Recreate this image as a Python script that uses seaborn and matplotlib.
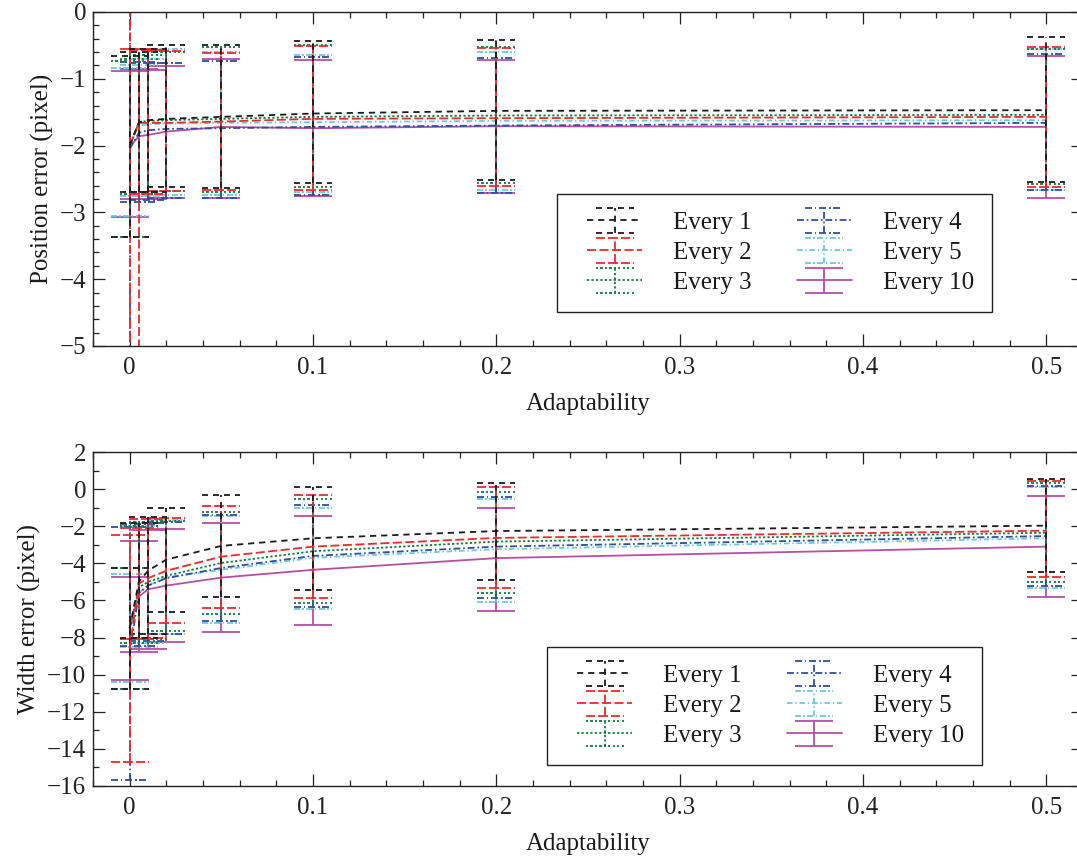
import matplotlib
matplotlib.use("Agg")
import matplotlib.pyplot as plt
import seaborn as sns
import numpy as np
from matplotlib.path import Path
from matplotlib.markers import MarkerStyle
from matplotlib.lines import Line2D
from matplotlib.container import ErrorbarContainer
from matplotlib.legend_handler import HandlerErrorbar

# ---- data ----
adaptability = [0, 0.005, 0.01, 0.02, 0.05, 0.1, 0.2, 0.5]
series = ["Every 1", "Every 2", "Every 3", "Every 4", "Every 5", "Every 10"]

pos_mean = {
    "Every 1":  [-2.00, -1.65, -1.62, -1.60, -1.57, -1.52, -1.48, -1.47],
    "Every 2":  [-2.00, -1.66, -1.66, -1.66, -1.64, -1.60, -1.59, -1.57],
    "Every 3":  [-2.02, -1.65, -1.63, -1.62, -1.60, -1.57, -1.55, -1.54],
    "Every 4":  [-2.05, -1.81, -1.77, -1.75, -1.74, -1.72, -1.70, -1.66],
    "Every 5":  [-2.00, -1.70, -1.68, -1.67, -1.66, -1.65, -1.63, -1.62],
    "Every 10": [-2.02, -1.86, -1.84, -1.79, -1.72, -1.74, -1.71, -1.72],
}
pos_upper = {
    "Every 1":  [-0.66, -0.60, -0.55, -0.49, -0.49, -0.43, -0.42, -0.37],
    "Every 2":  [1.50, -0.56, -0.57, -0.58, -0.61, -0.51, -0.54, -0.52],
    "Every 3":  [-0.73, -0.70, -0.65, -0.60, -0.52, -0.50, -0.52, -0.55],
    "Every 4":  [1.20, -0.75, -0.77, -0.77, -0.73, -0.68, -0.69, -0.63],
    "Every 5":  [-0.84, -0.80, -0.70, -0.55, -0.60, -0.64, -0.60, -0.56],
    "Every 10": [-0.89, -0.85, -0.87, -0.81, -0.70, -0.72, -0.72, -0.66],
}
pos_lower = {
    "Every 1":  [-3.37, -2.70, -2.69, -2.62, -2.64, -2.56, -2.51, -2.54],
    "Every 2":  [-5.50, -5.60, -2.72, -2.68, -2.66, -2.66, -2.61, -2.62],
    "Every 3":  [-3.37, -2.72, -2.72, -2.68, -2.69, -2.62, -2.56, -2.58],
    "Every 4":  [-5.30, -2.84, -2.81, -2.79, -2.79, -2.74, -2.71, -2.66],
    "Every 5":  [-3.05, -2.76, -2.76, -2.74, -2.74, -2.70, -2.67, -2.66],
    "Every 10": [-3.07, -2.80, -2.80, -2.79, -2.78, -2.76, -2.71, -2.78],
}

wid_mean = {
    "Every 1":  [-7.5, -5.0, -4.4, -3.8, -3.06, -2.65, -2.26, -1.97],
    "Every 2":  [-8.6, -5.1, -4.8, -4.4, -3.64, -3.10, -2.63, -2.24],
    "Every 3":  [-7.5, -5.3, -5.0, -4.67, -3.98, -3.35, -2.83, -2.35],
    "Every 4":  [-8.9, -5.6, -5.2, -4.8, -4.25, -3.60, -3.10, -2.53],
    "Every 5":  [-7.5, -5.6, -5.2, -4.75, -4.35, -3.70, -3.24, -2.65],
    "Every 10": [-7.5, -5.8, -5.4, -5.2, -4.77, -4.35, -3.72, -3.10],
}
wid_upper = {
    "Every 1":  [-4.23, -1.80, -1.50, -1.03, -0.32, 0.12, 0.35, 0.55],
    "Every 2":  [-2.47, -2.10, -1.60, -1.54, -0.89, -0.30, 0.11, 0.44],
    "Every 3":  [-4.23, -2.00, -1.75, -1.70, -1.22, -0.55, -0.16, 0.33],
    "Every 4":  [-2.05, -1.90, -1.80, -1.75, -1.39, -0.85, -0.42, 0.18],
    "Every 5":  [-4.57, -2.00, -1.80, -1.65, -1.45, -1.00, -0.53, 0.10],
    "Every 10": [-4.72, -2.78, -2.20, -2.16, -1.83, -1.45, -1.03, -0.37],
}
wid_lower = {
    "Every 1":  [-10.77, -8.00, -7.80, -6.60, -5.80, -5.42, -4.90, -4.47],
    "Every 2":  [-14.70, -8.10, -8.00, -7.22, -6.39, -5.85, -5.31, -4.74],
    "Every 3":  [-10.77, -8.30, -8.10, -7.63, -6.74, -6.15, -5.58, -4.99],
    "Every 4":  [-15.67, -8.45, -8.20, -7.82, -7.10, -6.35, -5.85, -5.20],
    "Every 5":  [-10.40, -8.50, -8.30, -7.80, -7.20, -6.45, -6.06, -5.34],
    "Every 10": [-10.29, -8.76, -8.60, -8.22, -7.70, -7.30, -6.55, -5.80],
}

# ---- styles ----
colors = {
    "Every 1": "#1a1a1a",
    "Every 2": "#ee2a2a",
    "Every 3": "#117a3c",
    "Every 4": "#2c4fa3",
    "Every 5": "#6cc9de",
    "Every 10": "#b54ea6",
}
# dash patterns in points (None = solid)
dashes = {
    "Every 1": (4.5, 3.5),
    "Every 2": (6.5, 2.5),
    "Every 3": (1.6, 1.6),
    "Every 4": (5.0, 2.0, 1.2, 2.0),
    "Every 5": (4.0, 2.0, 1.0, 2.0),
    "Every 10": None,
}
# drawing order: black over red on the bars, magenta underneath
zorders = {"Every 1": 2.5, "Every 2": 2.4, "Every 3": 2.3,
           "Every 4": 2.2, "Every 5": 2.1, "Every 10": 2.0}

LW = 1.3
CAPSIZE = 13.7
FS = 18

sns.set_theme(style="ticks")
plt.rcParams["font.family"] = ["Liberation Serif", "DejaVu Serif"]
plt.rcParams["axes.edgecolor"] = "#222222"
plt.rcParams["text.color"] = "#1a1a1a"
plt.rcParams["axes.labelcolor"] = "#1a1a1a"
plt.rcParams["xtick.color"] = "#222222"
plt.rcParams["ytick.color"] = "#222222"


def linestyle_for(name):
    pat = dashes[name]
    if pat is None:
        return "-"
    return (0, tuple(p / LW for p in pat))


def cap_marker(name):
    """Cap marker drawn with the same dash pattern as the series."""
    pat = dashes[name]
    if pat is None:
        return "_"
    length = 2 * CAPSIZE
    verts, codes = [], []
    pos, i = -length / 2, 0
    while pos < length / 2:
        on = pat[i % len(pat)]
        off = pat[(i + 1) % len(pat)]
        end = min(pos + on, length / 2)
        verts += [(pos, 0), (end, 0)]
        codes += [Path.MOVETO, Path.LINETO]
        pos = end + off
        i += 2
    verts.append((length / 2, 0))
    codes.append(Path.MOVETO)
    return MarkerStyle(Path(verts, codes))


class DashedCapHandler(HandlerErrorbar):
    """Errorbar legend entry with dashed caps and a little inset on both sides."""

    def __init__(self, inset=0.5, **kw):
        super().__init__(**kw)
        self.inset = inset

    def get_xdata(self, legend, xdescent, ydescent, width, height, fontsize):
        pad = self.inset * fontsize
        xdata = np.array([-xdescent + pad, -xdescent + width - pad])
        xdata_marker = np.array([-xdescent + 0.5 * width])
        return xdata, xdata_marker

    def create_artists(self, legend, orig_handle, xdescent, ydescent,
                       width, height, fontsize, trans):
        artists = super().create_artists(legend, orig_handle, xdescent, ydescent,
                                         width, height, fontsize, trans)
        marker = orig_handle.lines[1][0].get_marker()
        for a in artists:
            if isinstance(a, Line2D) and isinstance(a.get_marker(), str) and a.get_marker() == "_":
                a.set_marker(marker)
                a.set_markerfacecolor("none")
        return artists


def plot_panel(ax, mean, upper, lower):
    handles = []
    for name in series:
        m = mean[name]
        yerr = [[mi - lo for mi, lo in zip(m, lower[name])],
                [hi - mi for mi, hi in zip(m, upper[name])]]
        cont = ax.errorbar(adaptability, m, yerr=yerr, color=colors[name],
                           linestyle=linestyle_for(name), lw=LW, elinewidth=LW,
                           capsize=CAPSIZE, capthick=LW, label=name,
                           zorder=zorders[name])
        cont.lines[2][0].set_linestyle(linestyle_for(name))
        for cap in cont.lines[1]:
            cap.set_marker(cap_marker(name))
            cap.set_markerfacecolor("none")
        handles.append(cont)
    return handles


def style_axes(ax, ylim, ymajor, yminor, ylabel):
    ax.set_xlim(-0.02, 0.52)
    ax.set_ylim(*ylim)
    ax.set_xticks([0, 0.1, 0.2, 0.3, 0.4, 0.5])
    ax.set_xticklabels(["0", "0.1", "0.2", "0.3", "0.4", "0.5"])
    ax.xaxis.set_minor_locator(matplotlib.ticker.MultipleLocator(0.02))
    ax.yaxis.set_major_locator(matplotlib.ticker.MultipleLocator(ymajor))
    ax.yaxis.set_minor_locator(matplotlib.ticker.MultipleLocator(yminor))
    ax.tick_params(which="both", direction="in", top=True, right=True,
                   labelsize=FS, width=0.9)
    ax.tick_params(which="major", length=8.5)
    ax.tick_params(which="minor", length=4.3)
    ax.tick_params(axis="x", which="major", pad=8)
    ax.tick_params(axis="y", which="major", pad=5)
    for sp in ax.spines.values():
        sp.set_linewidth(1.0)
    ax.set_xlabel("Adaptability", fontsize=FS, labelpad=10)
    ax.set_ylabel(ylabel, fontsize=FS)


fig = plt.figure(figsize=(10.77, 8.57), dpi=100)
ax_top = fig.add_axes([93 / 1077, 1 - 346 / 857, 990 / 1077, 334 / 857])
ax_bot = fig.add_axes([93 / 1077, 1 - 786 / 857, 990 / 1077, 334 / 857])

h_top = plot_panel(ax_top, pos_mean, pos_upper, pos_lower)
style_axes(ax_top, (-5, 0), 1, 0.2, "Position error (pixel)")

h_bot = plot_panel(ax_bot, wid_mean, wid_upper, wid_lower)
style_axes(ax_bot, (-16, 2), 2, 1, "Width error (pixel)")

legend_kw = dict(ncol=2, loc="upper left", fontsize=FS, frameon=True, fancybox=False,
                 edgecolor="#222222", framealpha=1, handlelength=3.2, handletextpad=0.75,
                 columnspacing=1.3, labelspacing=0.3, borderpad=0.7, borderaxespad=0,
                 handler_map={ErrorbarContainer: DashedCapHandler(inset=0.5)})
leg1 = ax_top.legend(h_top, series, bbox_to_anchor=(0.4687, 0.455), **legend_kw)
leg2 = ax_bot.legend(h_bot, series, bbox_to_anchor=(0.4586, 0.416), **legend_kw)
for leg in (leg1, leg2):
    leg.get_frame().set_linewidth(1.0)

fig.savefig("out.png", dpi=100)
